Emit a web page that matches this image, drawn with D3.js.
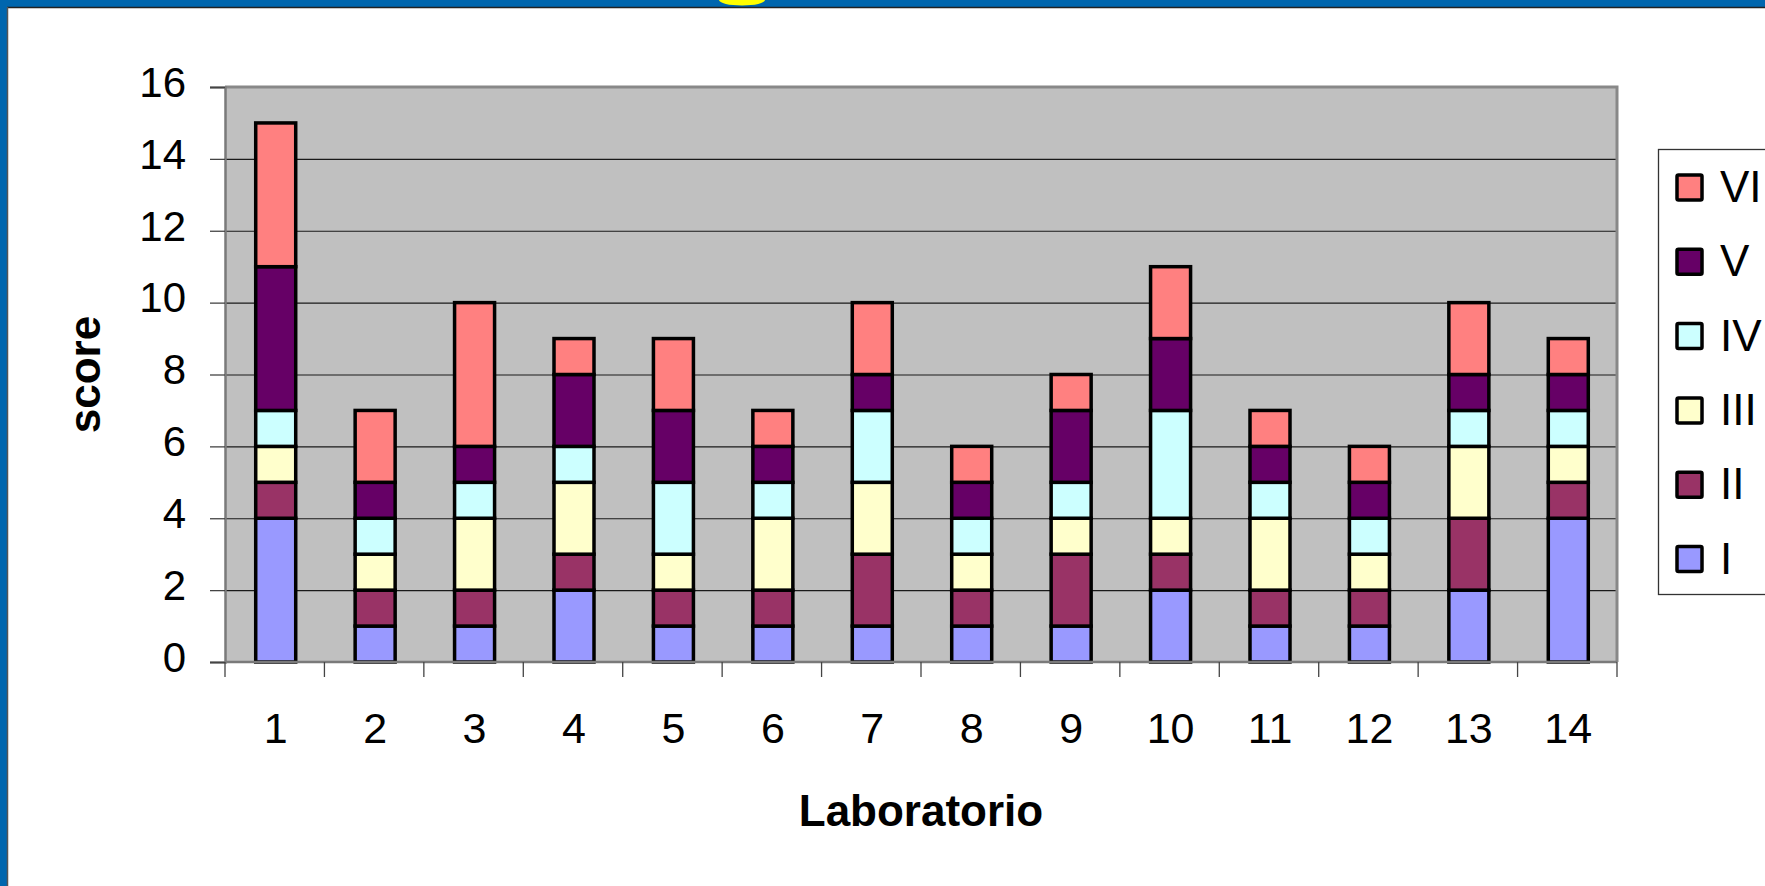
<!DOCTYPE html>
<html>
<head>
<meta charset="utf-8">
<script src="https://cdn.jsdelivr.net/npm/d3@7"></script>
<style>
  html, body { margin: 0; padding: 0; background: #fff; }
  svg { display: block; font-family: "Liberation Sans", Arial, sans-serif; }
</style>
</head>
<body>
<svg id="chart" width="1765" height="886"></svg>
<script>
// ---- data ----
const categories = ["1","2","3","4","5","6","7","8","9","10","11","12","13","14"];
const seriesNames = ["I","II","III","IV","V","VI"];
const serI   = [4,1,1,2,1,1,1,1,1,2,1,1,2,4];
const serII  = [1,1,1,1,1,1,2,1,2,1,1,1,2,1];
const serIII = [1,1,2,2,1,2,2,1,1,1,2,1,2,1];
const serIV  = [1,1,1,1,2,1,2,1,1,3,1,1,1,1];
const serV   = [4,1,1,2,2,1,1,1,2,2,1,1,1,1];
const serVI  = [4,2,4,1,2,1,2,1,1,2,1,1,2,1];
const yTicks = [0,2,4,6,8,10,12,14,16];
const colors = ["#9999FF","#993366","#FFFFCC","#CCFFFF","#660066","#FF8080"];
const xTitle = "Laboratorio";
const yTitle = "score";

const seriesValues = [serI, serII, serIII, serIV, serV, serVI];
const rows = categories.map((c, i) => {
  const r = { cat: c };
  seriesNames.forEach((s, j) => r[s] = seriesValues[j][i]);
  return r;
});

(function draw() {
const svg = d3.select("#chart");
const W = 1765, H = 886;

// frame (slide background)
svg.append("rect").attr("x",0).attr("y",0).attr("width",W).attr("height",H).attr("fill","#fff");
svg.append("rect").attr("x",0).attr("y",0).attr("width",W).attr("height",7).attr("fill","#0066AE");
svg.append("rect").attr("x",0).attr("y",0).attr("width",7).attr("height",H).attr("fill","#0066AE");
svg.append("ellipse").attr("cx",742).attr("cy",0).attr("rx",23).attr("ry",5.5).attr("fill","#FFFF00");
svg.append("line").attr("x1",7).attr("x2",W).attr("y1",7.5).attr("y2",7.5).attr("stroke","#222").attr("stroke-width",1.5);
svg.append("line").attr("x1",7.5).attr("x2",7.5).attr("y1",7).attr("y2",H).attr("stroke","#555").attr("stroke-width",1.5);

// plot area
const pLeft = 225, pRight = 1617, pTop = 87, pBottom = 662;
const x = d3.scaleBand().domain(categories).range([pLeft, pRight]).paddingInner(0).paddingOuter(0);
const y = d3.scaleLinear().domain([0, 16]).range([pBottom, pTop]);

svg.append("rect").attr("x",pLeft).attr("y",pTop).attr("width",pRight-pLeft).attr("height",pBottom-pTop)
  .attr("fill","#C0C0C0");

// gridlines
svg.append("g").selectAll("line").data(yTicks.filter(t => t > 0 && t < 16)).join("line")
  .attr("x1", pLeft).attr("x2", pRight)
  .attr("y1", d => y(d)+0.5).attr("y2", d => y(d)+0.5)
  .attr("stroke", "#1a1a1a").attr("stroke-width", 1.2);

// border top/right
svg.append("path")
  .attr("d", `M${pLeft},${pTop} H${pRight} V${pBottom}`)
  .attr("fill","none").attr("stroke","#888").attr("stroke-width",3);

// stacked bars
const stack = d3.stack().keys(seriesNames);
const stacked = stack(rows);
const barW = 40;
svg.append("g").selectAll("g").data(stacked).join("g")
  .attr("fill", (d, i) => colors[i])
  .selectAll("rect").data(d => d).join("rect")
  .attr("x", d => x(d.data.cat) + x.bandwidth()/2 - barW/2 + 1)
  .attr("width", barW)
  .attr("y", d => y(d[1]))
  .attr("height", d => y(d[0]) - y(d[1]))
  .attr("stroke", "#000").attr("stroke-width", 3.5);

// y axis
const yAxis = d3.axisLeft(y).tickValues(yTicks).tickSize(15).tickPadding(24);
const gy = svg.append("g").attr("transform", `translate(${pLeft},0)`).call(yAxis);
gy.select(".domain").attr("stroke","#7a7a7a").attr("stroke-width",2.5);
gy.selectAll(".tick line").attr("stroke","#444").attr("stroke-width",1.3);
gy.selectAll(".tick text").attr("font-size", 42).attr("fill","#000")
  .attr("font-family",'"Liberation Sans", Arial, sans-serif').attr("dy","0.22em");

// x axis: ticks at band boundaries, labels in band centers
const gx = svg.append("g").attr("transform", `translate(0,${pBottom})`);
gx.append("line").attr("x1", pLeft).attr("x2", pRight).attr("y1",0).attr("y2",0)
  .attr("stroke","#7a7a7a").attr("stroke-width",2.5);
const boundaries = categories.map(c => x(c)).concat([pRight]);
gx.selectAll("line.tk").data(boundaries).join("line").attr("class","tk")
  .attr("x1", d => d).attr("x2", d => d).attr("y1", 0).attr("y2", 15)
  .attr("stroke","#444").attr("stroke-width",1.3);
gx.selectAll("text").data(categories).join("text")
  .attr("x", d => x(d) + x.bandwidth()/2 + 1)
  .attr("y", 81)
  .attr("text-anchor","middle")
  .attr("font-size", 43).attr("fill","#000")
  .text(d => d);

// axis titles
svg.append("text").attr("x", (pLeft+pRight)/2).attr("y", 826)
  .attr("text-anchor","middle").attr("font-size",44).attr("font-weight","bold").text(xTitle);
svg.append("text").attr("transform", `translate(100,${(pTop+pBottom)/2}) rotate(-90)`)
  .attr("text-anchor","middle").attr("font-size",44).attr("font-weight","bold").text(yTitle);

// legend
const lg = svg.append("g");
lg.append("rect").attr("x",1658.5).attr("y",149.5).attr("width",140).attr("height",445)
  .attr("fill","#fff").attr("stroke","#333").attr("stroke-width",1.3);
const legendOrder = seriesNames.map((s, i) => ({ name: s, color: colors[i] })).reverse();
const item = lg.selectAll("g.it").data(legendOrder).join("g").attr("class","it")
  .attr("transform", (d, i) => `translate(1677,${175 + i*74.3})`);
item.append("rect").attr("x",0).attr("y",0).attr("width",25).attr("height",25)
  .attr("fill", d => d.color).attr("stroke","#000").attr("stroke-width",3.5).attr("rx",1.5);
item.append("text").attr("x",43).attr("y",27).attr("font-size",44).attr("fill","#000")
  .text(d => d.name);
})();
</script>
</body>
</html>
